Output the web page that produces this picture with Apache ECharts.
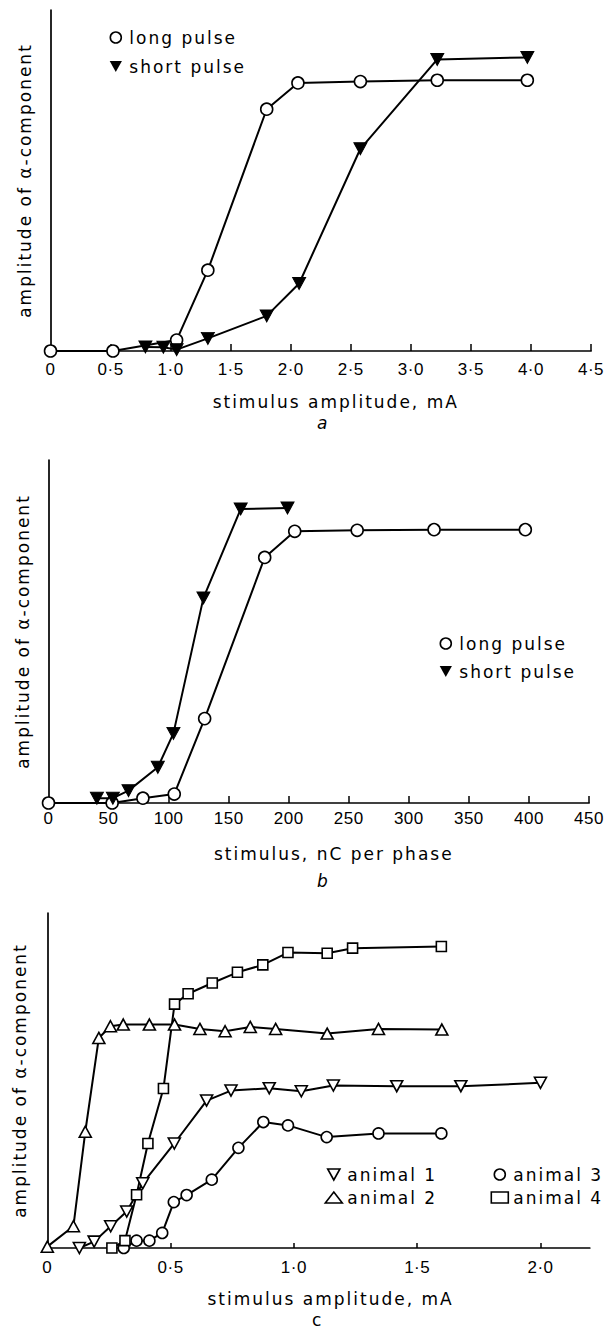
<!DOCTYPE html>
<html>
<head>
<meta charset="utf-8">
<script src="https://cdn.jsdelivr.net/npm/echarts@6/dist/echarts.min.js"></script>
<style>
html,body{margin:0;padding:0;background:#fff;}
#main{width:607px;height:1329px;}
#main text{letter-spacing:2px;}
#main text.num{letter-spacing:0.5px;}
</style>
</head>
<body>
<div id="main"></div>
<script>
// ---- Panel a: stimulus amplitude (mA) ----
const xTickValsA = [0, 0.5, 1, 1.5, 2, 2.5, 3, 3.5, 4, 4.5];
const xTickLabelsA = ['0', '0·5', '1·0', '1·5', '2·0', '2·5', '3·0', '3·5', '4·0', '4·5'];
const longPulseA = [[0, 0], [0.52, 0], [1.05, 3.2], [1.31, 23.7], [1.80, 70.9], [2.06, 78.6], [2.58, 79.0], [3.22, 79.4], [3.97, 79.4]];
const shortPulseA = [[0.79, 1.2], [0.94, 1.1], [1.05, 0.4], [1.31, 3.7], [1.80, 10.3], [2.07, 19.8], [2.58, 59.3], [3.22, 85.5], [3.97, 86.1]];

// ---- Panel b: stimulus, nC per phase ----
const xTickValsB = [0, 50, 100, 150, 200, 250, 300, 350, 400, 450];
const xTickLabelsB = ['0', '50', '100', '150', '200', '250', '300', '350', '400', '450'];
const longPulseB = [[0, 0], [53, 0], [78.6, 1.4], [104.7, 2.6], [130, 24.6], [180, 71.6], [205, 79.2], [257, 79.5], [321, 79.7], [397, 79.7]];
const shortPulseB = [[40.3, 1.4], [53.6, 1.4], [66.6, 3.6], [91, 10.4], [104, 20.3], [129, 59.8], [160, 85.7], [199, 86]];

// ---- Panel c: stimulus amplitude (mA), four animals ----
const xTickValsC = [0, 0.5, 1, 1.5, 2];
const xTickLabelsC = ['0', '0·5', '1·0', '1·5', '2·0'];
const animal1 = [[0.13, 0], [0.19, 1.9], [0.257, 6.5], [0.322, 10.9], [0.387, 19.3], [0.515, 31.2], [0.646, 44], [0.745, 47], [0.90, 47.7], [1.03, 46.8], [1.16, 48.5], [1.417, 48.3], [1.677, 48.3], [2.0, 49.3]];
const animal2 = [[0, 0.4], [0.106, 6.5], [0.154, 34.7], [0.209, 62.7], [0.256, 66.2], [0.308, 66.7], [0.414, 66.7], [0.516, 66.7], [0.619, 65.4], [0.721, 64.7], [0.823, 66.0], [0.926, 65.4], [1.135, 64.0], [1.343, 65.4], [1.60, 65.2]];
const animal3 = [[0.31, 0], [0.362, 2.2], [0.414, 2.2], [0.466, 4.5], [0.513, 13.7], [0.565, 15.8], [0.667, 20.4], [0.775, 29.9], [0.876, 37.6], [0.976, 36.6], [1.133, 33.1], [1.343, 34.2], [1.598, 34.2]];
const animal4 = [[0.262, 0], [0.315, 2.2], [0.362, 15.9], [0.408, 31.2], [0.471, 47.6], [0.516, 72.8], [0.571, 75.9], [0.669, 79.1], [0.771, 82.3], [0.874, 84.5], [0.976, 88.2], [1.135, 88.0], [1.238, 89.5], [1.598, 90.0]];

const yName = 'amplitude of α-component';
const xNameA = 'stimulus amplitude, mA';
const xNameB = 'stimulus, nC per phase';
const xNameC = 'stimulus amplitude, mA';

const TXT = 'DejaVu Sans';
const NUM = 'Liberation Sans';
const DOWN_TRI = 'path://M0,0L10,0L5,9Z';

function labelFor(vals, labels) {
  return function (v) {
    for (let i = 0; i < vals.length; i++) if (Math.abs(vals[i] - v) < 1e-6) return labels[i];
    return '';
  };
}

function xAxis(gridIndex, max, vals, labels, name, tickLen, labMargin, namePad) {
  return {
    type: 'value', gridIndex: gridIndex, min: 0, max: max,
    name: name, nameLocation: 'middle', nameGap: 42,
    nameTextStyle: { fontFamily: TXT, fontSize: 17, color: '#000', padding: [0, 0, 0, namePad] },
    axisLine: { show: true, onZero: false, lineStyle: { color: '#000', width: 1.7 } },
    axisTick: { show: true, inside: true, length: tickLen, lineStyle: { color: '#000', width: 1.5 },
      customValues: vals.filter(v => v > 0) },
    axisLabel: { show: true, margin: labMargin, fontFamily: NUM, fontSize: 17, color: '#000',
      customValues: vals, formatter: labelFor(vals, labels), showMinLabel: true, showMaxLabel: true },
    splitLine: { show: false }
  };
}
function yAxis(gridIndex, gap) {
  return {
    type: 'value', gridIndex: gridIndex, min: 0, max: 100,
    name: yName, nameLocation: 'middle', nameGap: gap, nameRotate: 90,
    nameTextStyle: { fontFamily: TXT, fontSize: 17, color: '#000' },
    axisLine: { show: true, lineStyle: { color: '#000', width: 1.7 } },
    axisTick: { show: false }, axisLabel: { show: false }, splitLine: { show: false }
  };
}

const hollow = { color: '#fff', borderColor: '#000', borderWidth: 1.6 };
const solid = { color: '#000', borderColor: '#000' };
const line = { color: '#000', width: 2 };
function series(name, data, idx, symbol, size, rotate, itemStyle) {
  return {
    type: 'line', name: name, data: data, xAxisIndex: idx, yAxisIndex: idx,
    symbol: symbol, symbolSize: size, symbolRotate: rotate, showAllSymbol: true,
    lineStyle: line, itemStyle: itemStyle, emphasis: { disabled: true }, silent: true, z: 3
  };
}

const legendText = { fontFamily: TXT, fontSize: 17, color: '#000' };
function legend(left, top, gap, items) {
  return { show: true, orient: 'vertical', left: left, top: top, itemGap: gap, itemWidth: 17, itemHeight: 11,
    symbolKeepAspect: true, selectedMode: false, padding: 0, textStyle: legendText, data: items };
}

const chart = echarts.init(document.getElementById('main'), null, { renderer: 'svg' });
chart.setOption({
  animation: false,
  backgroundColor: '#fff',
  title: [
    { text: 'a', left: 317, top: 414, padding: 0, textStyle: { fontFamily: TXT, fontSize: 17, fontStyle: 'italic', fontWeight: 'normal', color: '#000' } },
    { text: 'b', left: 317, top: 872, padding: 0, textStyle: { fontFamily: TXT, fontSize: 17, fontStyle: 'italic', fontWeight: 'normal', color: '#000' } },
    { text: 'c', left: 312, top: 1311, padding: 0, textStyle: { fontFamily: TXT, fontSize: 17, fontWeight: 'normal', color: '#000' } }
  ],
  grid: [
    { left: 50.5, top: 10, width: 540.5, height: 341, containLabel: false, outerBoundsMode: 'none' },
    { left: 48.5, top: 460, width: 540.5, height: 343, containLabel: false, outerBoundsMode: 'none' },
    { left: 47.3, top: 913, width: 542.5, height: 335, containLabel: false, outerBoundsMode: 'none' }
  ],
  xAxis: [
    xAxis(0, 4.5, xTickValsA, xTickLabelsA, xNameA, 7, 10, 30),
    xAxis(1, 450, xTickValsB, xTickLabelsB, xNameB, 7, 7, 30),
    xAxis(2, 2.2, xTickValsC, xTickLabelsC, xNameC, 5, 11, 24)
  ],
  yAxis: [yAxis(0, 17), yAxis(1, 17), yAxis(2, 19)],
  legend: [
    legend(109.5, 29, 12, [
      { name: 'long pulse', icon: 'circle', itemStyle: hollow },
      { name: 'short pulse', icon: DOWN_TRI, itemStyle: solid }
    ]),
    legend(439.5, 635, 11, [
      { name: 'long pulse', icon: 'circle', itemStyle: hollow },
      { name: 'short pulse', icon: DOWN_TRI, itemStyle: solid }
    ]),
    legend(324.5, 1166, 6, [
      { name: 'animal 1', icon: DOWN_TRI, itemStyle: hollow },
      { name: 'animal 2', icon: 'triangle', itemStyle: hollow }
    ]),
    legend(490.5, 1166, 6, [
      { name: 'animal 3', icon: 'circle', itemStyle: hollow },
      { name: 'animal 4', icon: 'rect', itemStyle: hollow }
    ])
  ],
  series: [
    series('long pulse', longPulseA, 0, 'circle', 12, 0, hollow),
    series('short pulse', shortPulseA, 0, 'triangle', [13, 12], 180, solid),
    series('long pulse', longPulseB, 1, 'circle', 12, 0, hollow),
    series('short pulse', shortPulseB, 1, 'triangle', [13, 12], 180, solid),
    series('animal 1', animal1, 2, 'triangle', [12, 11], 180, hollow),
    series('animal 2', animal2, 2, 'triangle', [12, 11], 0, hollow),
    series('animal 3', animal3, 2, 'circle', 11, 0, hollow),
    series('animal 4', animal4, 2, 'rect', 10, 0, hollow)
  ]
});

// tighter spacing for numeric tick labels
function markNumbers() {
  document.querySelectorAll('#main text').forEach(function (t) {
    if (/^[0-9·]+$/.test(t.textContent.trim())) t.classList.add('num');
  });
}
markNumbers();
chart.on('finished', markNumbers);
</script>
</body>
</html>
